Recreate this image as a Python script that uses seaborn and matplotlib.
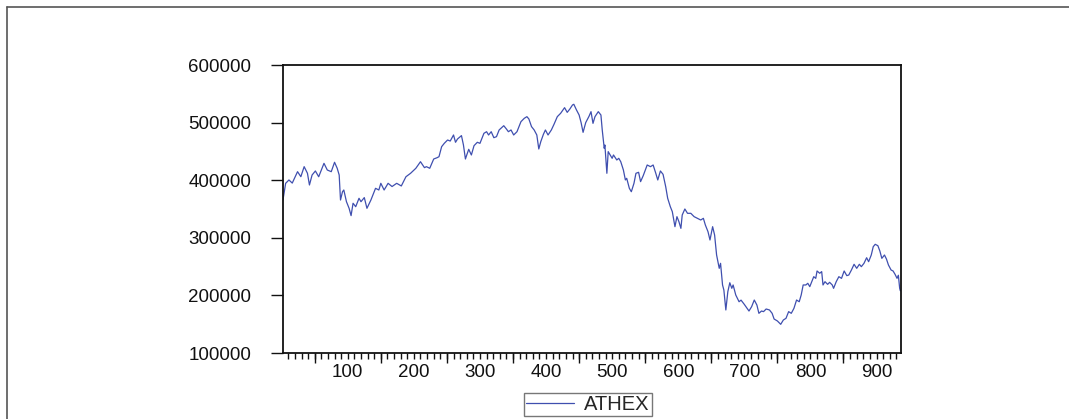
import matplotlib
matplotlib.use("Agg")
import matplotlib.pyplot as plt
from matplotlib.lines import Line2D
from matplotlib.ticker import FixedLocator, MultipleLocator, NullFormatter
import numpy as np
import pandas as pd
import seaborn as sns

# Observation number and ATHEX index level
obs = [
    2, 6, 11, 16, 24, 29, 34, 39, 42, 46, 51, 56, 64, 69, 75, 80, 84, 87, 89, 92,
    94, 98, 102, 105, 108, 112, 117, 120, 125, 129, 135, 142, 147, 150, 155, 161,
    167, 174, 181, 188, 195, 203, 210, 216, 219, 224, 230, 235, 238, 242, 246, 251,
    255, 260, 263, 266, 272, 275, 278, 280, 283, 287, 291, 296, 300, 306, 310, 313,
    317, 321, 325, 329, 336, 340, 343, 347, 351, 356, 362, 367, 371, 374, 378, 382,
    386, 389, 392, 396, 399, 403, 408, 412, 417, 422, 428, 432, 436, 440, 442, 446,
    450, 453, 456, 460, 465, 468, 471, 474, 479, 483, 485, 488, 489, 492, 494, 497,
    500, 502, 507, 510, 513, 517, 520, 522, 526, 529, 533, 536, 540, 543, 547, 553,
    558, 562, 566, 569, 573, 577, 581, 584, 588, 591, 595, 598, 601, 604, 606, 610,
    614, 619, 624, 629, 634, 638, 641, 645, 648, 652, 655, 658, 662, 664, 667, 669,
    672, 675, 678, 681, 683, 687, 692, 695, 700, 707, 711, 715, 719, 722, 726, 729,
    733, 738, 742, 745, 750, 755, 759, 763, 767, 771, 775, 779, 783, 786, 789, 793,
    796, 799, 805, 808, 810, 814, 817, 819, 822, 826, 829, 833, 835, 839, 843, 847,
    851, 855, 858, 862, 866, 870, 874, 877, 881, 885, 888, 892, 895, 898, 902, 905,
    908, 912, 915, 918, 922, 925, 928, 931, 933, 935, 936,
]
athex = [
    366000, 394600, 400400, 395000, 414800, 406100, 423500, 412000, 391700, 409000,
    416000, 406000, 429300, 417700, 414800, 431100, 420700, 409000, 365600, 380000,
    383000, 362700, 351200, 338500, 360000, 354000, 368600, 362700, 369800, 351200,
    365600, 385900, 383000, 394600, 383000, 394600, 389000, 394600, 390000, 406000,
    412000, 420700, 432100, 421800, 423500, 420700, 436800, 439000, 440800, 458200,
    464000, 469800, 468000, 478500, 465800, 471500, 477400, 461100, 436800, 443800,
    453600, 443800, 459900, 465800, 464000, 481400, 484200, 478500, 484200, 473800,
    475600, 487200, 494600, 488900, 484200, 487200, 478500, 484200, 501600, 507400,
    510300, 506300, 493000, 487200, 478500, 454200, 466900, 479700, 487200, 478500,
    487200, 497000, 510300, 516100, 525900, 517800, 523600, 530600, 531800, 522000,
    513200, 500000, 483100, 500000, 511000, 519000, 498700, 510300, 519000, 513200,
    487200, 455400, 461100, 412000, 449600, 443800, 438000, 443800, 435100, 438000,
    432100, 417700, 400400, 403300, 385900, 380000, 394600, 412000, 413700, 397500,
    407900, 426400, 423500, 426400, 412000, 400400, 416000, 410200, 388800, 368600,
    354000, 345400, 319300, 336700, 328000, 316400, 339600, 350000, 342500, 342500,
    336700, 333800, 330900, 333800, 322200, 310600, 296200, 319300, 304800, 270200,
    247000, 255700, 218100, 209400, 174700, 206500, 222000, 212300, 218100, 200700,
    189000, 191800, 184300, 172900, 180400, 192000, 183200, 168900, 172900, 171800,
    176400, 174700, 168900, 159000, 155600, 149800, 157300, 160200, 171800, 168900,
    177500, 192000, 189000, 200700, 218100, 218100, 221000, 215200, 232500, 229600,
    242400, 238400, 241300, 218100, 223800, 219200, 222700, 218100, 212300, 223800,
    232500, 229600, 242400, 234300, 235400, 244100, 254000, 247000, 254000, 249900,
    255700, 265400, 258500, 270100, 284600, 288700, 286300, 277100, 264300, 270100,
    263100, 252800, 244100, 242400, 236600, 229600, 235000, 212300, 208000,
]
series_name = "ATHEX"

y_ticks = [100000, 200000, 300000, 400000, 500000, 600000]
x_labeled = [100, 200, 300, 400, 500, 600, 700, 800, 900]
x_half = [50, 150, 250, 350, 450, 550, 650, 750, 850]

sns.set_style("white")
plt.rcParams["font.family"] = ["Liberation Sans", "DejaVu Sans"]

df = pd.DataFrame({"obs": obs, series_name: athex})

fig = plt.figure(figsize=(10.69, 4.19), dpi=100)
ax = fig.add_axes([283 / 1069, 66 / 419, 618 / 1069, 288 / 419])

line_color = "#3F4FAF"
sns.lineplot(data=df, x="obs", y=series_name, ax=ax, color=line_color,
             linewidth=0.9, legend=False)

ax.set_xlim(2, 937)
ax.set_ylim(100000, 600000)
ax.set_xlabel("")
ax.set_ylabel("")

for s in ax.spines.values():
    s.set_color("#111111")
    s.set_linewidth(1.3)

ax.yaxis.set_major_locator(FixedLocator(y_ticks))
ax.set_yticklabels([str(v) for v in y_ticks])
ax.tick_params(axis="y", direction="out", length=9, width=1.0, pad=14,
               labelsize=13.5, colors="#111111", left=True, right=False)

ax.xaxis.set_major_locator(FixedLocator(x_labeled))
ax.set_xticklabels([str(v) for v in x_labeled])
ax.xaxis.set_minor_locator(MultipleLocator(10))
ax.xaxis.set_minor_formatter(NullFormatter())
ax.tick_params(axis="x", which="both", direction="out", length=4, width=1.0,
               pad=4, labelsize=13.5, colors="#111111", bottom=True, top=False)

# longer ticks at the mid-hundreds
sec = ax.secondary_xaxis("bottom")
sec.set_xticks(x_half)
sec.tick_params(axis="x", direction="out", length=7, width=1.0,
                labelbottom=False, colors="#111111")
sec.spines["bottom"].set_visible(False)

leg = fig.legend(handles=[Line2D([], [], color=line_color, linewidth=0.9)],
                 labels=[series_name], loc="center",
                 bbox_to_anchor=(588 / 1069, 1 - 404.5 / 419), fontsize=14.5,
                 frameon=True, fancybox=False, handlelength=2.4,
                 handletextpad=0.5, borderpad=0.12, borderaxespad=0)
leg.get_frame().set_edgecolor("#555555")
leg.get_frame().set_linewidth(1.0)

# outer frame edges
fig.add_artist(Line2D([7 / 1069, 1.0], [1 - 7 / 419, 1 - 7 / 419],
                      transform=fig.transFigure, color="#555555", linewidth=1.2))
fig.add_artist(Line2D([7 / 1069, 7 / 1069], [0.0, 1 - 7 / 419],
                      transform=fig.transFigure, color="#555555", linewidth=1.2))

fig.savefig("out.png", dpi=100, facecolor="white")
